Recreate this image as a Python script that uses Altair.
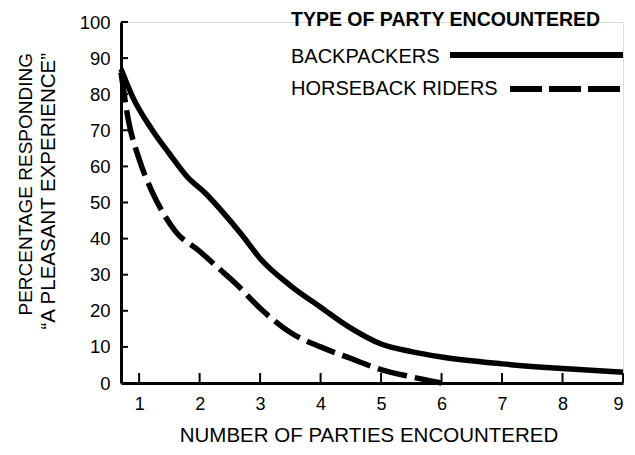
import altair as alt
import pandas as pd

# ---- data ----
series = ["BACKPACKERS", "HORSEBACK RIDERS"]
bp_x = [0.7, 0.9, 1.2, 1.5, 1.8, 2.1, 2.4, 2.7, 3.0, 3.5, 4.0, 4.5, 5.0, 5.5, 6.0, 7.0, 8.0, 9.0]
bp_y = [87, 79, 70.5, 63.5, 57, 52.5, 47, 41, 34.5, 27, 21, 15.2, 10.8, 8.7, 7.2, 5.3, 4.0, 3.0]
hr_x = [0.7, 0.82, 1.0, 1.2, 1.4, 1.6, 2.0, 2.3, 2.6, 3.0, 3.5, 4.0, 4.5, 5.0, 5.5, 6.0]
hr_y = [86, 73, 62, 53.5, 47, 42, 36.5, 32, 27.5, 20.7, 14, 10, 6.8, 3.7, 1.7, 0]
x_ticks = [1, 2, 3, 4, 5, 6, 7, 8, 9]
y_ticks = [0, 10, 20, 30, 40, 50, 60, 70, 80, 90, 100]
legend_title = "TYPE OF PARTY ENCOUNTERED"
x_title = "NUMBER OF PARTIES ENCOUNTERED"
y_title = ["PERCENTAGE RESPONDING", "\u201cA PLEASANT EXPERIENCE\u201d"]

FONT = "Liberation Sans"
W, H = 502, 361

bp = pd.DataFrame({"x": bp_x, "y": bp_y, "s": series[0]})
hr = pd.DataFrame({"x": hr_x, "y": hr_y, "s": series[1]})

xs = alt.Scale(domain=[0.7, 9], nice=False, zero=False)
ys = alt.Scale(domain=[0, 100], nice=False)

x_axis = alt.Axis(values=x_ticks, format="d", title=None, grid=False, ticks=False, tickSize=0,
                  labelFont=FONT, labelFontSize=18, labelColor="black", labelPadding=12,
                  labelOverlap=False, domainColor="black", domainWidth=3)
y_axis = alt.Axis(values=y_ticks, format="d", title=None, grid=False, ticks=False, tickSize=0,
                  labelFont=FONT, labelFontSize=18.5, labelColor="black", labelPadding=11,
                  labelOverlap=False, domainColor="black", domainWidth=3)

solid = alt.Chart(bp).mark_line(color="black", strokeWidth=5.5, interpolate="monotone").encode(
    x=alt.X("x:Q", scale=xs, axis=x_axis),
    y=alt.Y("y:Q", scale=ys, axis=y_axis),
)
dashed = alt.Chart(hr).mark_line(color="black", strokeWidth=5.5, interpolate="monotone",
                                 strokeDash=[30, 8], strokeCap="butt").encode(
    x=alt.X("x:Q", scale=xs, axis=x_axis),
    y=alt.Y("y:Q", scale=ys, axis=y_axis),
)

# inward tick marks
xt = alt.Chart(pd.DataFrame({"x": x_ticks})).mark_rule(color="black", strokeWidth=2).encode(
    x=alt.X("x:Q", scale=xs, axis=x_axis), y=alt.value(H), y2=alt.value(H - 10))
yt = alt.Chart(pd.DataFrame({"y": y_ticks[1:]})).mark_rule(color="black", strokeWidth=2).encode(
    y=alt.Y("y:Q", scale=ys, axis=y_axis), x=alt.value(0), x2=alt.value(7))

one = pd.DataFrame({"k": [0]})

def txt(s, x, y, size=18, bold=False, angle=0, align="left"):
    kw = dict(font=FONT, fontSize=size, color="black", align=align, baseline="alphabetic",
              fontWeight="bold" if bold else "normal")
    if angle:
        kw["angle"] = angle
    return alt.Chart(one).mark_text(**kw).encode(x=alt.value(x), y=alt.value(y), text=alt.value(s))

xtitle = txt(x_title, 248, 420, size=20.5, align="center")
yt1 = txt(y_title[0], -89, 31, size=19, angle=270, align="right")
yt2 = txt(y_title[1], -66, 31, size=20.5, angle=270, align="right")

lg_title = txt(legend_title, 170, 4, size=19.5, bold=True)
lg_bp = txt(series[0], 170, 41, size=20)
lg_hr = txt(series[1], 170, 73, size=20)
lg_bp_line = alt.Chart(one).mark_rule(color="black", strokeWidth=6).encode(
    x=alt.value(329), x2=alt.value(502), y=alt.value(33))
lg_hr_line = alt.Chart(one).mark_rule(color="black", strokeWidth=6, strokeDash=[32, 7],
                                      strokeCap="butt").encode(
    x=alt.value(389), x2=alt.value(504), y=alt.value(67))

chart = alt.layer(
    solid, dashed, xt, yt, xtitle, yt1, yt2, lg_title, lg_bp, lg_hr, lg_bp_line, lg_hr_line
).properties(
    width=W, height=H,
    autosize=alt.AutoSizeParams(type="none"),
    padding={"left": 113, "top": 14, "right": 4, "bottom": 64},
).configure_view(stroke=None).configure(background="white")

chart.save("out.html", embed_options={"renderer": "svg", "actions": False})
